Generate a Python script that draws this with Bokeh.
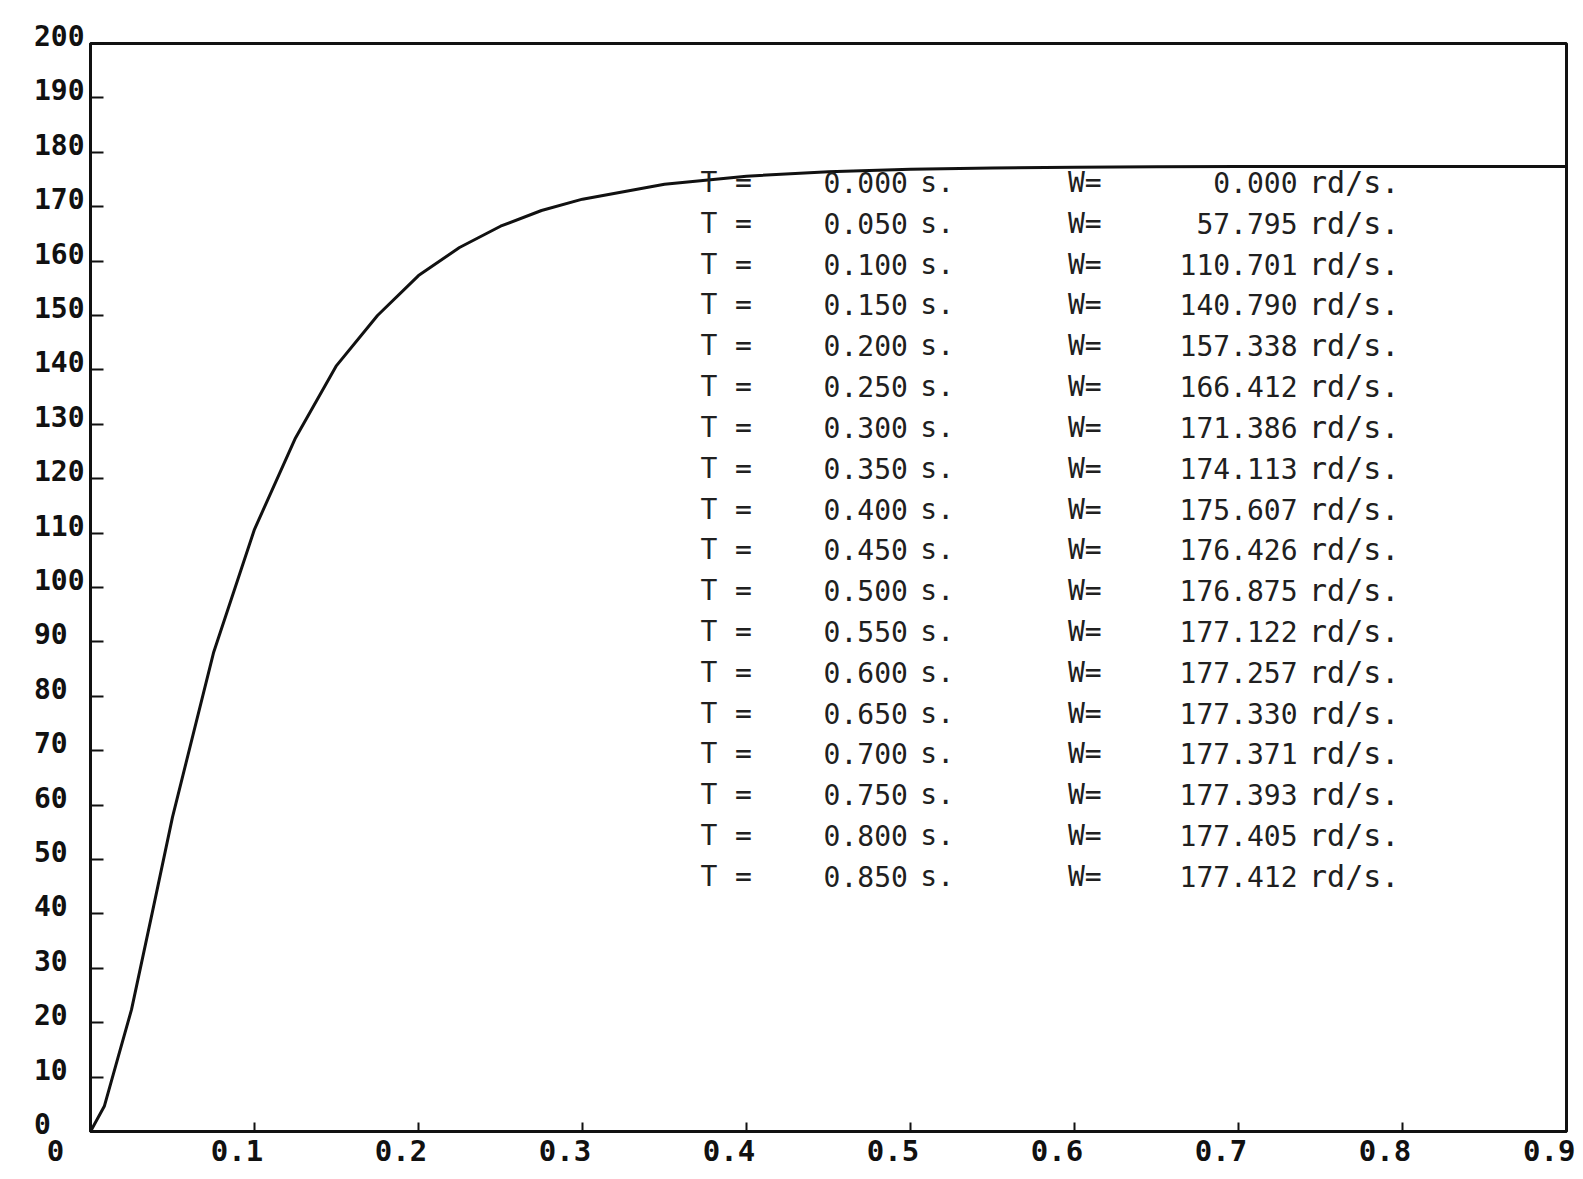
from bokeh.plotting import figure
from bokeh.models import Range1d, FixedTicker, ColumnDataSource, LinearAxis
from bokeh.core.properties import value
from bokeh.embed import file_html
from bokeh.resources import INLINE

T = [0.000, 0.050, 0.100, 0.150, 0.200, 0.250, 0.300, 0.350, 0.400,
     0.450, 0.500, 0.550, 0.600, 0.650, 0.700, 0.750, 0.800, 0.850]
W = [0.000, 57.795, 110.701, 140.790, 157.338, 166.412, 171.386, 174.113,
     175.607, 176.426, 176.875, 177.122, 177.257, 177.330, 177.371,
     177.393, 177.405, 177.412]

# extra points (between table rows, and its end at the frame)
curve_extra_t = [0.0085, 0.0165, 0.025, 0.0375, 0.075, 0.125, 0.175, 0.225, 0.275, 0.9]
curve_extra_w = [4.7, 13.3, 22.4, 40.0, 88.0, 127.5, 150.0, 162.5, 169.3, 177.41]

x_ticks = [0.0, 0.1, 0.2, 0.3, 0.4, 0.5, 0.6, 0.7, 0.8, 0.9]
x_tick_labels = ["0", "0.1", "0.2", "0.3", "0.4", "0.5", "0.6", "0.7", "0.8", "0.9"]
y_ticks = [0, 10, 20, 30, 40, 50, 60, 70, 80, 90, 100, 110, 120, 130, 140,
           150, 160, 170, 180, 190, 200]
y_tick_labels = [str(v) for v in y_ticks]

FONT = "DejaVu Sans Mono"
INK = "#111111"
NB = "\u00a0"

pts = sorted(list(zip(T, W)) + list(zip(curve_extra_t, curve_extra_w)))
curve_t = [a for a, b in pts]
curve_w = [b for a, b in pts]

p = figure(frame_width=1476, frame_height=1088,
           x_range=Range1d(0.0, 0.9), y_range=Range1d(0.0, 200.0),
           output_backend="svg", toolbar_location=None,
           min_border_left=90, min_border_right=9,
           min_border_top=43, min_border_bottom=40,
           background_fill_color="white", border_fill_color="white")
p.grid.visible = False
p.outline_line_color = INK
p.outline_line_width = 3

# axes carrying the line and inward ticks
p.xaxis.ticker = FixedTicker(ticks=x_ticks)
p.yaxis.ticker = FixedTicker(ticks=y_ticks)
for ax in (p.xaxis[0], p.yaxis[0]):
    ax.axis_line_color = INK
    ax.axis_line_width = 3
    ax.major_tick_line_color = INK
    ax.major_tick_line_width = 2
    ax.major_tick_out = 0
    ax.minor_tick_line_color = None
    ax.major_label_standoff = 0
    ax.major_label_text_font_size = "0px"
p.xaxis.major_label_overrides = {t: "" for t in x_ticks}
p.yaxis.major_label_overrides = {t: "" for t in y_ticks}
p.xaxis.major_tick_in = 9
p.yaxis.major_tick_in = 13

# axes carrying the printed tick labels: plotter style, left aligned in a
# fixed field, a little left of the x ticks and sitting on the y ticks
x_text = [l.ljust(3, NB) + NB + NB for l in x_tick_labels[:-1]] + [x_tick_labels[-1]]
xl = LinearAxis(ticker=FixedTicker(ticks=x_ticks),
                major_label_overrides=dict(zip(x_ticks, x_text)))
yl = LinearAxis(ticker=FixedTicker(ticks=y_ticks),
                major_label_overrides={t: l.ljust(3, NB) + "\n"
                                       for t, l in zip(y_ticks, y_tick_labels)})
for ax in (xl, yl):
    ax.axis_line_color = None
    ax.major_tick_line_color = None
    ax.minor_tick_line_color = None
    ax.major_tick_in = 0
    ax.major_tick_out = 0
    ax.major_label_text_font = FONT
    ax.major_label_text_font_style = "bold"
    ax.major_label_text_color = INK
xl.major_label_text_font_size = "29px"
xl.major_label_standoff = 2
yl.major_label_text_font_size = "28px"
yl.major_label_text_line_height = 0.42
yl.major_label_standoff = 6
p.add_layout(xl, "below")
p.add_layout(yl, "left")

p.line(curve_t, curve_w, line_color=INK, line_width=3)

# ---- printed table ----
n = len(T)
row_top, row_step = 174.45, 7.503
rows = ColumnDataSource(dict(
    y=[row_top - i * row_step for i in range(n)],
    tval=["%.3f" % t for t in T],
    wval=["%.3f" % w for w in W],
    tlab=["T"] * n, eq=["="] * n, sunit=["s."] * n,
    wlab=["W="] * n, wunit=["rd/s."] * n,
))
common = dict(source=rows, y="y", text_font=value(FONT),
              text_color="#202020", text_baseline="middle")
p.text(x=0.372, text="tlab", text_align="left", text_font_size="28px", **common)
p.text(x=0.393, text="eq", text_align="left", text_font_size="28px", **common)
p.text(x=0.447, text="tval", text_align="left", text_font_size="28px", **common)
p.text(x=0.506, text="sunit", text_align="left", text_font_size="28px", **common)
p.text(x=0.596, text="wlab", text_align="left", text_font_size="28px", **common)
p.text(x=0.736, text="wval", text_align="right", text_font_size="28px", **common)
p.text(x=0.743, text="wunit", text_align="left", text_font_size="30px", **common)

open("out.html", "w").write(file_html(p, INLINE))
